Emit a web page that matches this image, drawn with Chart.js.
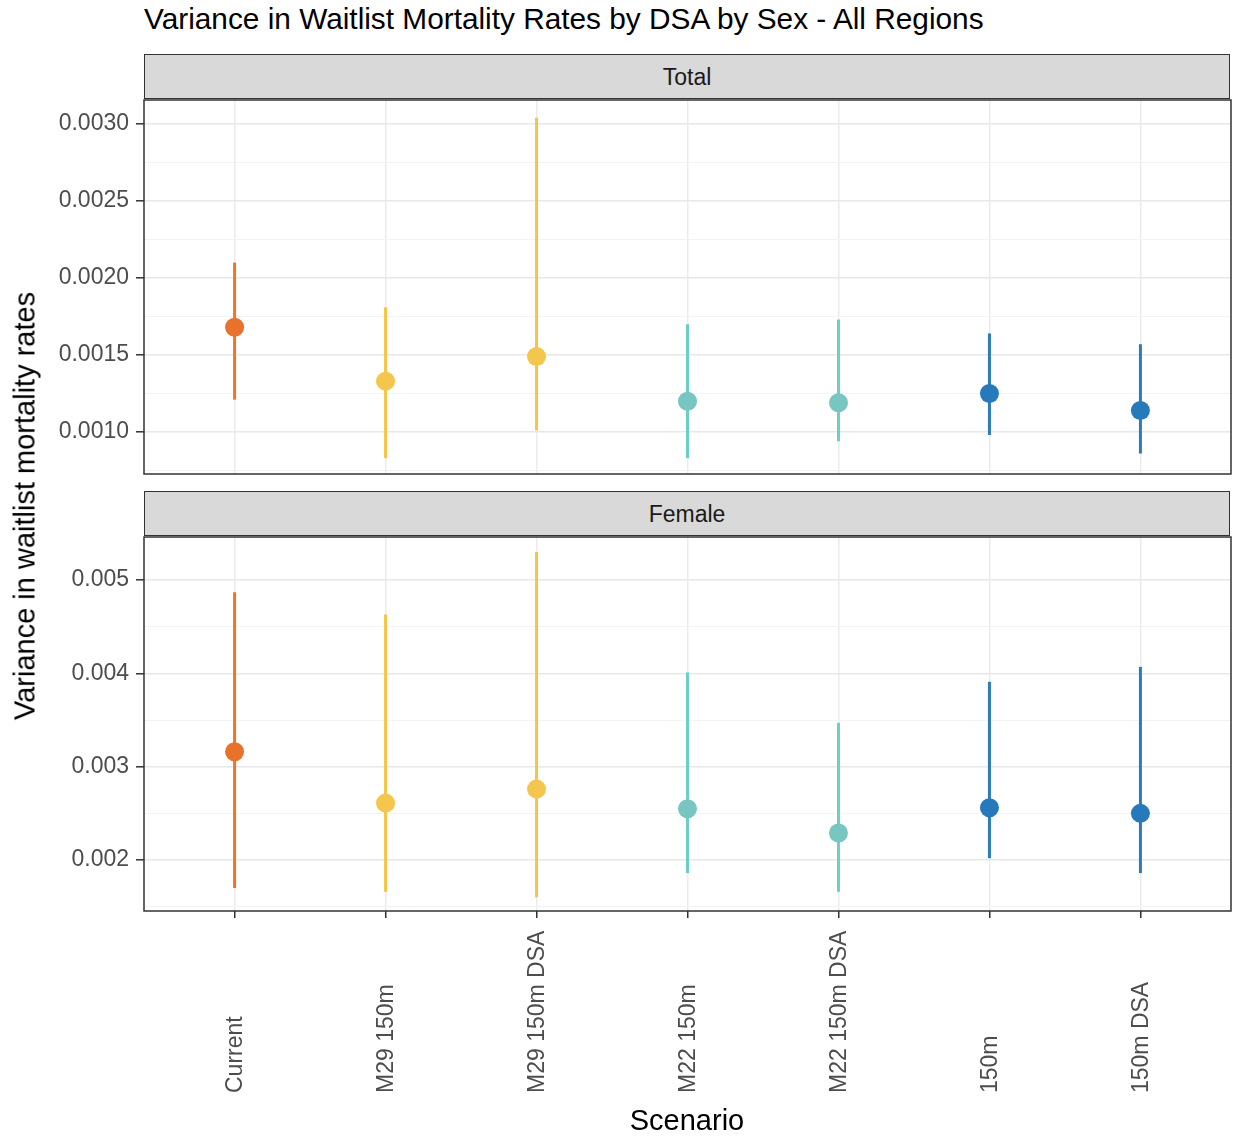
<!DOCTYPE html>
<html>
<head>
<meta charset="utf-8">
<script src="https://cdn.jsdelivr.net/npm/chart.js@4"></script>
<style>
    body { margin: 0; background: #fff; font-family: "Liberation Sans", Arial, sans-serif; }
    #page { position: relative; width: 1236px; height: 1139px; overflow: hidden; }
    .abs { position: absolute; }
    #title { left: 144px; top: 4px; font-size: 29.8px; line-height: 30px; color: #000; white-space: nowrap; }
    .strip { left: 144px; width: 1084px; height: 43px; background: #d9d9d9; border: 1.5px solid #333;
             font-size: 23px; line-height: 45px; text-align: center; color: #1a1a1a; }
    #ytitle { left: 25px; top: 506px; font-size: 29px; line-height: 29px; white-space: nowrap; color: #000;
              transform: translate(-50%, -50%) rotate(-90deg); }
    #xtitle { left: 687px; top: 1106px; font-size: 29px; line-height: 29px; white-space: nowrap; color: #000;
              transform: translateX(-50%); }
</style>
</head>
<body>
<div id="page">
    <div id="title" class="abs">Variance in Waitlist Mortality Rates by DSA by Sex - All Regions</div>
    <div class="abs strip" style="top:54px;">Total</div>
    <div class="abs strip" style="top:491px;">Female</div>
    <canvas id="chart-total" class="abs" width="1236" height="382" style="left:0;top:96px;"></canvas>
    <canvas id="chart-female" class="abs" width="1236" height="580" style="left:0;top:533px;"></canvas>
    <div id="ytitle" class="abs">Variance in waitlist mortality rates</div>
    <div id="xtitle" class="abs">Scenario</div>
</div>
<script>
    const scenarios = ['Current', 'M29 150m', 'M29 150m DSA', 'M22 150m', 'M22 150m DSA', '150m', '150m DSA'];

    const totalMid  = [0.00168, 0.00133, 0.00149, 0.00120, 0.00119, 0.00125, 0.00114];
    const totalLow  = [0.00121, 0.00083, 0.00101, 0.00083, 0.00094, 0.00098, 0.00086];
    const totalHigh = [0.00210, 0.00181, 0.00304, 0.00170, 0.00173, 0.00164, 0.00157];

    const femaleMid  = [0.00316, 0.00261, 0.00276, 0.00255, 0.00229, 0.00256, 0.00250];
    const femaleLow  = [0.00170, 0.00166, 0.00160, 0.00186, 0.00166, 0.00202, 0.00186];
    const femaleHigh = [0.00487, 0.00463, 0.00530, 0.00401, 0.00347, 0.00391, 0.00407];

    const totalMajorTicks = [0.0010, 0.0015, 0.0020, 0.0025, 0.0030];
    const totalMinorTicks = [0.00075, 0.00125, 0.00175, 0.00225, 0.00275];
    const femaleMajorTicks = [0.002, 0.003, 0.004, 0.005];
    const femaleMinorTicks = [0.0015, 0.0025, 0.0035, 0.0045];

    const lineColors  = ['#ef7428', '#f7c545', '#f7c545', '#6ecdc8', '#6ecdc8', '#2a7cbd', '#2a7cbd'];
    const pointColors = ['#e8712b', '#f5c64d', '#f5c64d', '#78c6c1', '#78c6c1', '#2679ba', '#2679ba'];

    const FONT = '"Liberation Sans", Arial, sans-serif';

    function isMajor(list, v) {
        return list.some(function (m) { return Math.abs(m - v) < 1e-9; });
    }

    function noPadding(scale) {
        scale.paddingTop = 0;
        scale.paddingBottom = 0;
        scale.paddingLeft = 0;
        scale.paddingRight = 0;
    }

    const panelBorder = {
        id: 'panelBorder',
        afterDraw: function (chart) {
            const a = chart.chartArea;
            const ctx = chart.ctx;
            ctx.save();
            ctx.strokeStyle = '#333333';
            ctx.lineWidth = 1.5;
            ctx.strokeRect(a.left, a.top, a.right - a.left, a.bottom - a.top);
            ctx.restore();
        }
    };

    // x labels rotated 90deg, left-justified at the bottom like ggplot's angle = 90
    const bottomLabels = {
        id: 'bottomLabels',
        afterDraw: function (chart) {
            const xs = chart.scales.x;
            const ctx = chart.ctx;
            ctx.save();
            ctx.font = '23px ' + FONT;
            ctx.fillStyle = '#4d4d4d';
            ctx.textAlign = 'left';
            ctx.textBaseline = 'middle';
            scenarios.forEach(function (name, i) {
                ctx.save();
                ctx.translate(xs.getPixelForValue(i) + 1, chart.chartArea.bottom + 182);
                ctx.rotate(-Math.PI / 2);
                ctx.fillText(name, 0, 0);
                ctx.restore();
            });
            ctx.restore();
        }
    };

    function makePanel(canvasId, mid, low, high, majorTicks, minorTicks, yMin, yMax, digits, isBottom) {
        const datasets = [{
            data: mid.map(function (v, i) { return { x: i, y: v }; }),
            pointRadius: 9.5,
            pointBackgroundColor: pointColors,
            pointBorderWidth: 0,
            showLine: false
        }];
        scenarios.forEach(function (s, i) {
            datasets.push({
                data: [{ x: i, y: low[i] }, { x: i, y: high[i] }],
                showLine: true,
                borderColor: lineColors[i],
                borderWidth: 3,
                pointRadius: 0
            });
        });

        return new Chart(document.getElementById(canvasId), {
            type: 'scatter',
            data: { datasets: datasets },
            options: {
                responsive: false,
                animation: false,
                layout: { autoPadding: false, padding: { left: 0, right: 5, top: 4, bottom: isBottom ? 0 : 4 } },
                plugins: { legend: { display: false }, tooltip: { enabled: false } },
                scales: {
                    x: {
                        type: 'linear',
                        min: -0.6,
                        max: 6.6,
                        afterBuildTicks: function (scale) {
                            scale.ticks = scenarios.map(function (s, i) { return { value: i }; });
                        },
                        afterFit: function (scale) {
                            scale.height = isBottom ? 202 : 0;
                            noPadding(scale);
                        },
                        ticks: { display: false },
                        border: { display: false },
                        grid: {
                            color: '#ebebeb',
                            lineWidth: 1.5,
                            drawTicks: isBottom,
                            tickLength: 7,
                            tickColor: '#333333',
                            tickWidth: 1.5
                        }
                    },
                    y: {
                        type: 'linear',
                        min: yMin,
                        max: yMax,
                        afterBuildTicks: function (scale) {
                            scale.ticks = majorTicks.concat(minorTicks)
                                .sort(function (a, b) { return a - b; })
                                .map(function (v) { return { value: v }; });
                        },
                        afterFit: function (scale) {
                            scale.width = 144;
                            noPadding(scale);
                        },
                        border: { display: false },
                        grid: {
                            color: function (c) { return c.tick && isMajor(majorTicks, c.tick.value) ? '#e8e8e8' : '#f3f3f3'; },
                            lineWidth: function (c) { return c.tick && isMajor(majorTicks, c.tick.value) ? 1.6 : 1; },
                            tickLength: 8,
                            tickColor: function (c) { return c.tick && isMajor(majorTicks, c.tick.value) ? '#333333' : 'rgba(0,0,0,0)'; },
                            tickWidth: 1.5
                        },
                        ticks: {
                            padding: 7,
                            color: '#4d4d4d',
                            font: { family: FONT, size: 23 },
                            callback: function (v) { return isMajor(majorTicks, v) ? v.toFixed(digits) : ''; }
                        }
                    }
                }
            },
            plugins: isBottom ? [panelBorder, bottomLabels] : [panelBorder]
        });
    }

    makePanel('chart-total', totalMid, totalLow, totalHigh, totalMajorTicks, totalMinorTicks,
        0.000727, 0.003156, 4, false);
    makePanel('chart-female', femaleMid, femaleLow, femaleHigh, femaleMajorTicks, femaleMinorTicks,
        0.001454, 0.005461, 3, true);
</script>
</body>
</html>
